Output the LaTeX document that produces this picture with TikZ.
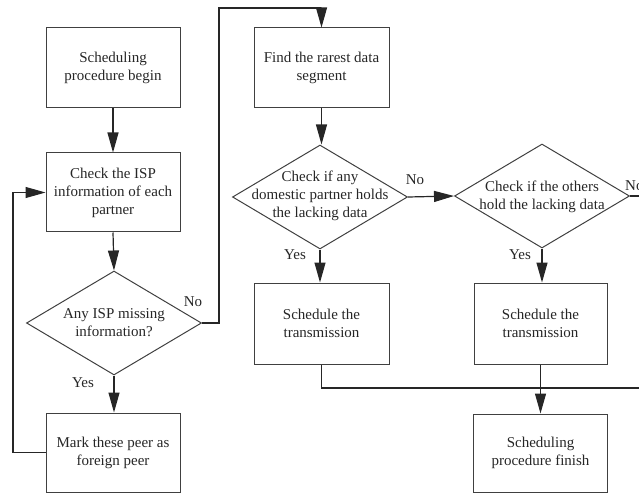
\documentclass[tikz,border=0pt]{standalone}
\usepackage{fontspec}
\setmainfont{Liberation Serif}
\usetikzlibrary{shapes.geometric,arrows.meta}
\begin{document}
\begin{tikzpicture}[x=1pt,y=-1pt,
  every node/.style={font=\fontsize{15}{18}\selectfont, text=black!85},
  procbox/.style={draw=black!75, line width=1pt, rectangle, inner sep=0pt, align=center},
  decbox/.style={draw=black!75, line width=1pt, diamond, inner sep=0pt, minimum width=175, minimum height=104},
  dectext/.style={align=center, inner sep=0pt},
  lbl/.style={inner sep=0pt},
  flow/.style={draw=black!85, line width=1.2pt},
  arr/.style={flow, -{Triangle[length=20pt,width=11pt]}}]
\useasboundingbox (0,0) rectangle (639,494);
\clip (0,0) rectangle (639,494);
% left column
\node[procbox, minimum width=134, minimum height=80] (b1) at (113,68) {Scheduling\\procedure begin};
\node[procbox, minimum width=134, minimum height=79] (b2) at (113,192.5) {Check the ISP\\information of each\\partner};
\node[decbox] (d1) at (114,323) {};
\node[dectext] (t1) at (114,323) {Any ISP missing\\information?};
\node[procbox, minimum width=134, minimum height=79] (b4) at (113,452.5) {Mark these peer as\\foreign peer};
% middle column
\node[procbox, minimum width=135, minimum height=80] (b3) at (321.5,68) {Find the rarest data\\segment};
\node[decbox] (d2) at (320,197) {};
\node[dectext] (t2) at (320,196) {Check if any\\domestic partner holds\\the lacking data};
\node[procbox, minimum width=135, minimum height=81] (b5) at (321.5,323.5) {Schedule the\\transmission};
% right column
\node[decbox] (d3) at (542,196) {};
\node[dectext] (t3) at (542,196.5) {Check if the others\\hold the lacking data};
\node[procbox, minimum width=133, minimum height=81] (b6) at (540.5,323.5) {Schedule the\\transmission};
\node[procbox, minimum width=134, minimum height=78] (b7) at (540.5,453) {Scheduling\\procedure finish};
% coordinates for routing
\coordinate (c1) at (13,452.5);
\coordinate (c2) at (13,192.5);
\coordinate (c3) at (219,323);
\coordinate (c4) at (219,8);
\coordinate (c5) at (321.5,8);
\coordinate (c6) at (321.5,388);
\coordinate (c7) at (639,388);
\coordinate (c8) at (639,196);
% connectors
\draw[arr] (b1.south) -- (b2.north);
\draw[arr] (b2.south) -- (d1.north);
\draw[arr] (d1.south) -- (b4.north -| d1.south);
\draw[arr] (b4.west) -- (c1) -- (c2) -- (b2.west);
\draw[arr] (d1.east) -- (c3) -- (c4) -- (c5) -- (b3.north);
\draw[arr] (b3.south) -- (d2.north -| b3.south);
\draw[arr] (d2.east) -- (d3.west);
\draw[arr] (d2.south) -- (b5.north -| d2.south);
\draw[arr] (d3.south) -- (b6.north -| d3.south);
\draw[flow] (d3.east) -- (c8);
\draw[flow] (b5.south) -- (c6) -- (c7);
\draw[arr] (b6.south) -- (b7.north);
% labels
\node[lbl] (l1) at (83,383) {Yes};
\node[lbl] (l2) at (193,302) {No};
\node[lbl] (l3) at (295,255) {Yes};
\node[lbl] (l4) at (415,180) {No};
\node[lbl] (l5) at (520,255) {Yes};
\node[lbl, anchor=west] (l6) at (625,186) {No};
\end{tikzpicture}
\end{document}
